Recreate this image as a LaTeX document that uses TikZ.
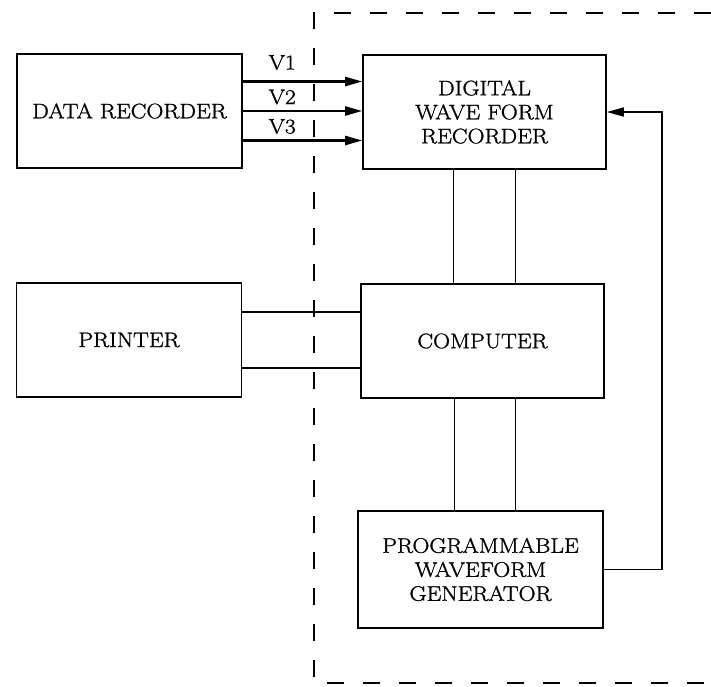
\documentclass[tikz,border=0pt]{standalone}
\usepackage{fontspec}
\usepackage{tikz}
\usetikzlibrary{calc,positioning,arrows.meta}
\newfontfamily\boxfont{Latin Modern Roman}[FakeStretch=1.12, FakeBold=1.3]

\begin{document}
\begin{tikzpicture}[x=1pt,y=-1pt,
  blk/.style={draw, line width=1.6pt, minimum width=#1, minimum height=114pt,
    align=center, font=\boxfont\fontsize{21}{24}\selectfont, inner sep=0pt},
  blk/.default=225pt,
  sig/.style={line width=2.4pt, -{Triangle[length=17pt,width=9pt]}},
  bus/.style={line width=2.2pt},
  wire/.style={line width=1.2pt},
  frame/.style={line width=1.8pt, dash pattern=on 17pt off 19pt},
  lbl/.style={font=\boxfont\fontsize{21}{24}\selectfont, inner sep=0pt}]
  \useasboundingbox (0,0) rectangle (711,686);

  % Outside the frame
  \node[blk] (rec) at (129.5,111) {DATA RECORDER};
  \node[blk] (prn) at (129,340) {PRINTER};

  % Inside the frame
  \node[blk=243pt] (dwfr) at (484.5,112) {DIGITAL\\WAVE FORM\\RECORDER};
  \node[blk=243pt] (comp) at (482.5,341) {COMPUTER};
  \node[blk=245pt, minimum height=117pt] (gen) at (480.5,569.5) {PROGRAMMABLE\\WAVEFORM\\GENERATOR};

  % Dashed frame
  \draw[frame] (711,13) -| (314,683) -- (711,683);

  % Channels V1--V3
  \foreach \dy/\name/\up [count=\i] in {29.5/V1/19, 0/V2/14, -29.5/V3/14} {
    \draw[sig] ([yshift=\dy pt]rec.east) -- ([yshift=\dy pt]rec.east -| dwfr.west);
    \node[lbl] (v\i) at ($([yshift=\dy pt]rec.east)!0.33!([yshift=\dy pt]rec.east -| dwfr.west)+(0,-\up)$) {\name};
  }

  % Printer -- computer
  \draw[bus] ([yshift=28pt]prn.east) -- ([yshift=28pt]prn.east -| comp.west);
  \draw[bus] ([yshift=-28pt]prn.east) -- ([yshift=-28pt]prn.east -| comp.west);

  % Recorder -- computer -- generator
  \draw[wire] ([xshift=-31pt]dwfr.south) -- ([xshift=-31pt]dwfr.south |- comp.north);
  \draw[wire] ([xshift=31pt]dwfr.south) -- ([xshift=31pt]dwfr.south |- comp.north);
  \draw[wire] ([xshift=-28pt]comp.south) -- ([xshift=-28pt]comp.south |- gen.north);
  \draw[wire] ([xshift=33pt]comp.south) -- ([xshift=33pt]comp.south |- gen.north);

  % Feedback
  \coordinate (fb) at (662,340);
  \draw[line width=1.6pt, -{Triangle[length=17pt,width=9pt]}]
    (gen.east) -- (gen.east -| fb) -- (dwfr.east -| fb) -- (dwfr.east);
\end{tikzpicture}
\end{document}
